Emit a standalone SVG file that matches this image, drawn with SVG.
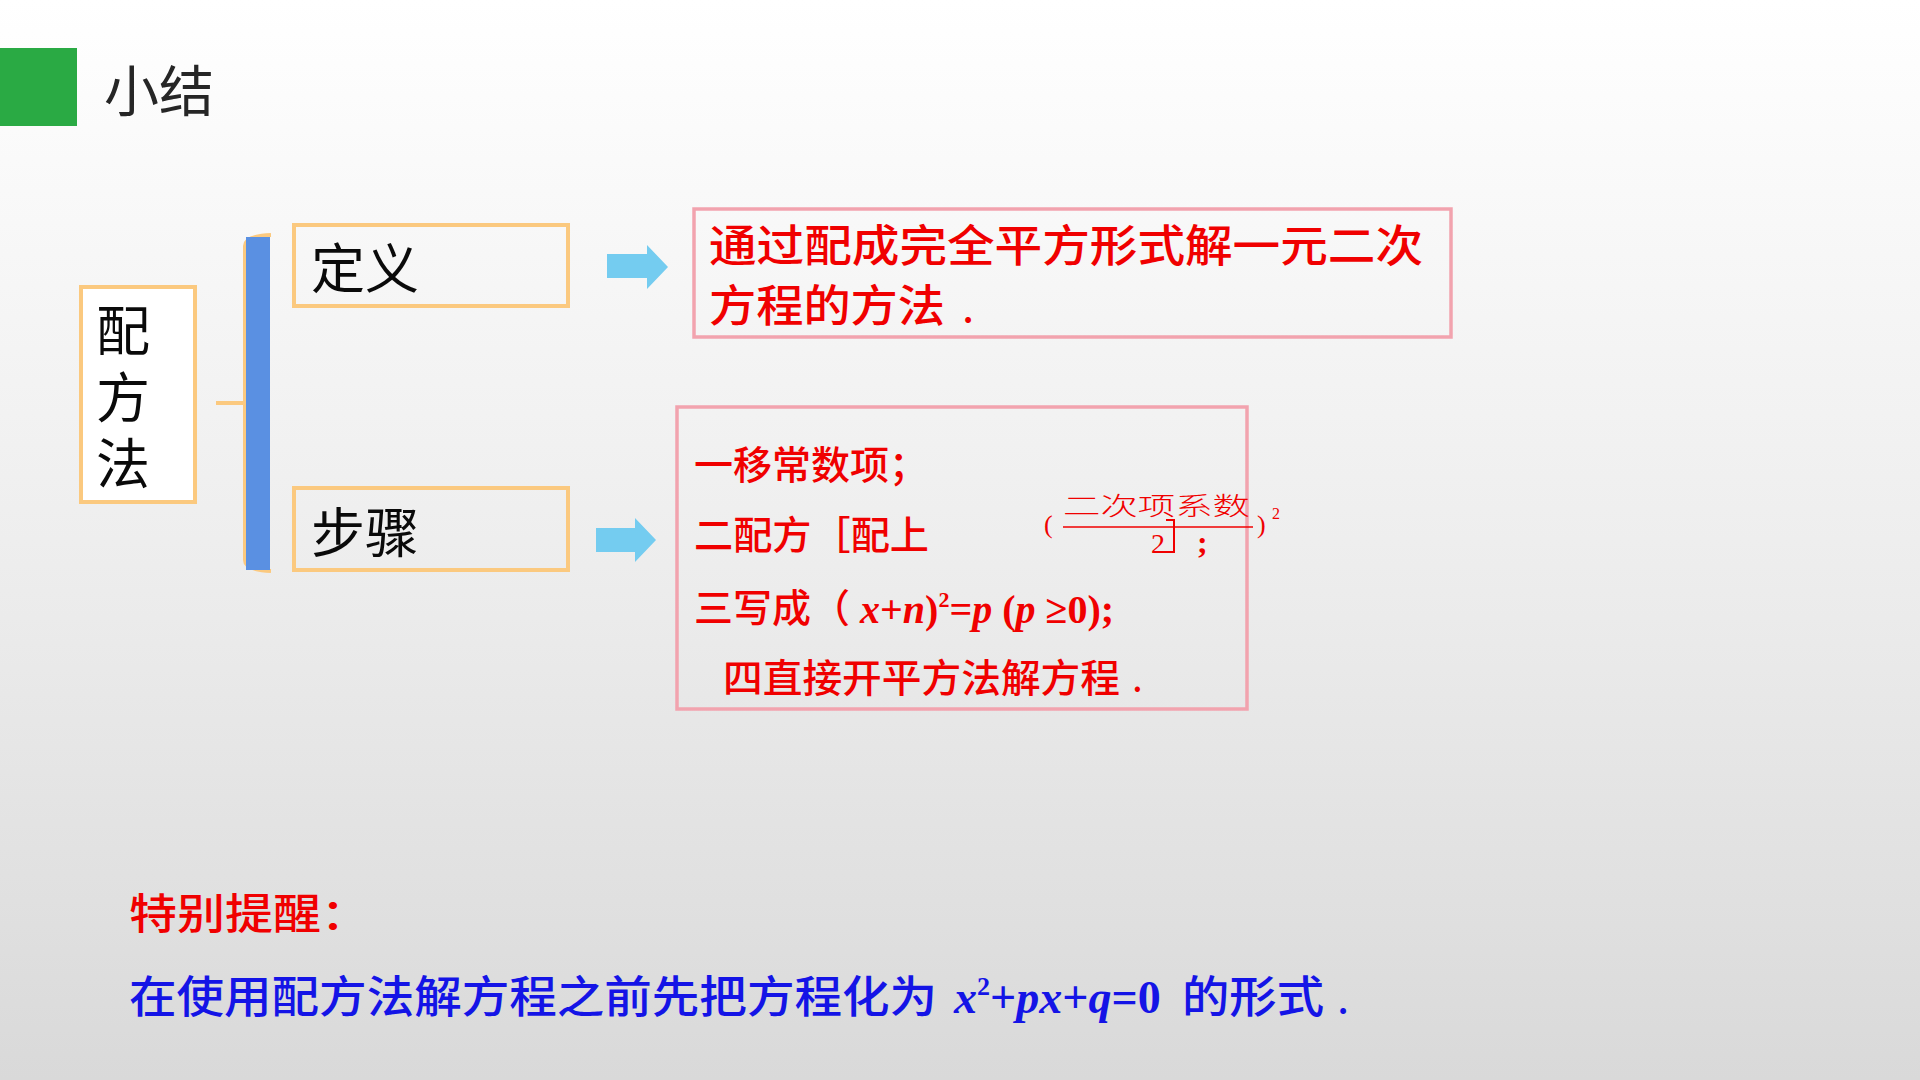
<svg xmlns="http://www.w3.org/2000/svg" width="1920" height="1080" viewBox="0 0 1920 1080">
<defs>
<linearGradient id="bg" x1="0" y1="0" x2="0" y2="1">
<stop offset="0" stop-color="#ffffff"/>
<stop offset="0.5" stop-color="#eeeeee"/>
<stop offset="1" stop-color="#d9d9d9"/>
</linearGradient>
<style>
.cjk{font-family:"Noto Sans CJK SC","Noto Sans",sans-serif;}
.ser{font-family:"Liberation Serif","Noto Sans CJK SC",serif;}
.obox{fill:none;stroke:#fbc97f;stroke-width:4;}
.pbox{fill:none;stroke:#f2a3ae;stroke-width:3.5;}
.red{fill:#f00000;}
.blue{fill:#1414e6;}
.blk{fill:#0a0a0a;font-size:54px;}
.arrow{fill:#74ccf0;}
.math{font-weight:bold;font-style:italic;}
</style>
</defs>
<rect x="0" y="0" width="1920" height="1080" fill="url(#bg)"/>

<g id="title">
<rect x="0" y="48" width="77" height="78" fill="#2aaa44"/>
<text class="cjk" x="104" y="111" font-size="55" fill="#262626">小结</text>
</g>

<g id="node-method">
<rect x="81" y="287" width="114" height="215" fill="#ffffff" stroke="#fbc97f" stroke-width="4"/>
<text class="cjk blk" x="96" y="351">配</text>
<text class="cjk blk" x="96" y="418">方</text>
<text class="cjk blk" x="96" y="484">法</text>
</g>

<g id="node-definition">
<rect class="obox" x="294" y="225" width="274" height="81"/>
<text class="cjk blk" x="311" y="289">定义</text>
</g>

<g id="node-steps">
<rect class="obox" x="294" y="488" width="274" height="82"/>
<text class="cjk blk" x="311" y="553">步骤</text>
</g>

<g id="node-definition-text">
<rect class="pbox" x="694" y="209" width="757" height="128"/>
<text class="cjk red" x="709" y="262" font-size="44" font-weight="500" textLength="714" lengthAdjust="spacingAndGlyphs">通过配成完全平方形式解一元二次</text>
<text class="cjk red" x="709" y="322" font-size="44" font-weight="500" textLength="236" lengthAdjust="spacingAndGlyphs">方程的方法</text>
<text class="cjk red" x="962" y="322" font-size="44">.</text>
</g>

<g id="node-steps-text">
<rect class="pbox" x="677" y="407" width="570" height="302"/>
<text class="cjk red" x="694" y="479" font-size="39" font-weight="500">一移常数项；</text>
<text class="cjk red" x="694" y="549" font-size="39" font-weight="500" textLength="235" lengthAdjust="spacingAndGlyphs">二配方［配上</text>
<text class="ser red" x="1044" y="533" font-size="26">(</text>
<text class="cjk red" x="1063" y="515" font-size="25" font-weight="300" textLength="187" lengthAdjust="spacingAndGlyphs">二次项系数</text>
<line x1="1063" y1="527" x2="1253" y2="527" stroke="#f00000" stroke-width="1.6"/>
<text class="ser red" x="1257" y="533" font-size="26">)</text>
<text class="ser red" x="1272" y="519" font-size="16">2</text>
<text class="ser red" x="1151" y="553" font-size="28">2</text>
<path d="M1166,520 H1174 V552 H1163" fill="none" stroke="#f00000" stroke-width="2"/>
<text class="ser red" x="1197" y="553" font-size="32" font-weight="bold">;</text>
<text class="cjk red" x="694" y="622" font-size="39" font-weight="500">三写成（</text>
<text class="ser red" y="623" font-size="40" font-weight="bold"><tspan x="860" font-style="italic">x</tspan><tspan>+</tspan><tspan font-style="italic">n</tspan><tspan>)</tspan><tspan font-size="22" dy="-16">2</tspan><tspan dy="16">=</tspan><tspan font-style="italic">p</tspan><tspan> (</tspan><tspan font-style="italic">p</tspan><tspan> ≥0);</tspan></text>
<text class="cjk red" x="723" y="692" font-size="39" font-weight="500" textLength="397" lengthAdjust="spacingAndGlyphs">四直接开平方法解方程</text>
<text class="cjk red" x="1132" y="692" font-size="39">.</text>
</g>

<g id="connectors">
<path d="M271,235 Q245,236 245,246 L245,560 Q245,570 271,571" fill="none" stroke="#fbc97f" stroke-width="4"/>
<path d="M216,403 L245,403" fill="none" stroke="#fbc97f" stroke-width="4"/>
<rect x="246" y="237" width="24" height="333" fill="#5a90e2"/>
<path class="arrow" d="M607,254 H647 V245 L668,267 L647,289 V278 H607 Z"/>
<path class="arrow" d="M596,528 H635 V518 L656,540 L635,562 V552 H596 Z"/>
</g>

<g id="reminder">
<text class="cjk red" x="129" y="929" font-size="42" font-weight="500" textLength="240" lengthAdjust="spacingAndGlyphs">特别提醒：</text>
<text class="cjk blue" x="129" y="1013" font-size="44" font-weight="500" textLength="808" lengthAdjust="spacingAndGlyphs">在使用配方法解方程之前先把方程化为</text>
<text class="ser blue math" y="1013" font-size="46"><tspan x="954">x</tspan><tspan font-size="26" dy="-18" font-style="normal">2</tspan><tspan dy="18" font-style="normal">+</tspan><tspan>px</tspan><tspan font-style="normal">+</tspan><tspan>q</tspan><tspan font-style="normal">=0</tspan></text>
<text class="cjk blue" x="1182" y="1013" font-size="44" font-weight="500" textLength="142" lengthAdjust="spacingAndGlyphs">的形式</text>
<text class="cjk blue" x="1337" y="1013" font-size="44">.</text>
</g>
</svg>
